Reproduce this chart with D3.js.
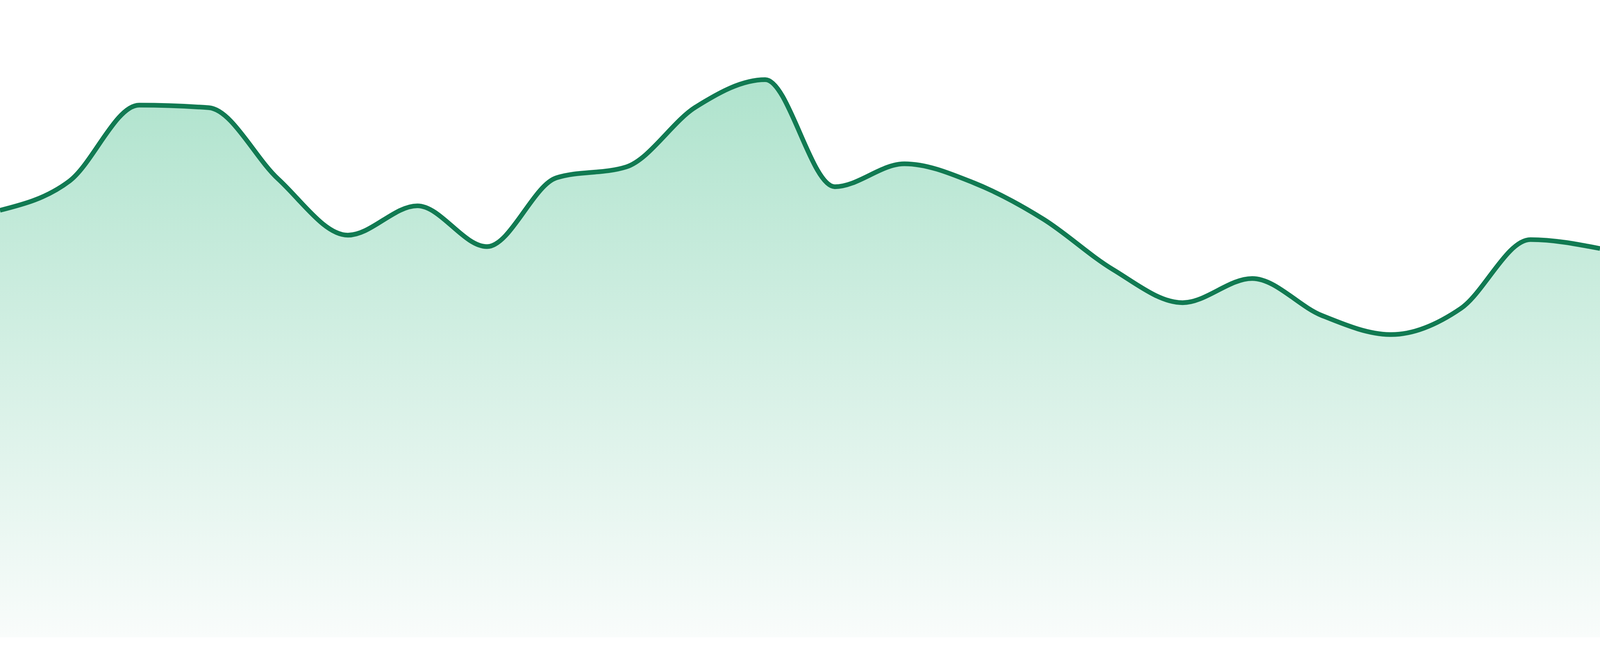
<!DOCTYPE html>
<html>
<head>
<meta charset="utf-8">
<script src="https://cdn.jsdelivr.net/npm/d3@7"></script>
<style>
  html, body { margin: 0; padding: 0; background: #fff; overflow: hidden; }
  svg { display: block; }
</style>
</head>
<body>
<div id="chart"></div>
<script>
// one series, evenly spaced points, no axes shown
const points = [0, 1, 2, 3, 4, 5, 6, 7, 8, 9, 10, 11, 12, 13, 14, 15, 16, 17, 18, 19, 20, 21, 22, 23]
const values = [67.0, 71.6, 83.5, 83.1, 71.9, 63.1, 67.7, 61.3, 72.1, 73.8, 83.2, 87.5,
                70.7, 74.3, 71.3, 65.6, 57.7, 52.5, 56.3, 50.5, 47.5, 51.6, 62.4, 61.0]
const yDomain = [0, 100]

// size to the window, the reference layout was 4800 x 1680
const width = window.innerWidth || 4800
const height = window.innerHeight || 1680
const k = width / 4800
const margin = {top: 0, right: 0, bottom: height * 48 / 1680, left: 0}

const svg = d3.select('#chart')
              .append('svg')
              .attr('width', width)
              .attr('height', height)

const x = d3.scaleLinear()
            .domain(d3.extent(points))
            .range([margin.left, width - margin.right])

const y = d3.scaleLinear()
            .domain(yDomain)
            .range([height - margin.bottom, margin.top])

const data = points.map((p, i) => ({x: p, v: values[i]}))

const defs = svg.append('defs')
const grad = defs.append('linearGradient')
                 .attr('id', 'fillGrad')
                 .attr('x1', 0).attr('y1', 0)
                 .attr('x2', 0).attr('y2', 1)
grad.append('stop').attr('offset', '0%').attr('stop-color', '#afe3cd')
grad.append('stop').attr('offset', '100%').attr('stop-color', '#f9fcfb')

const area = d3.area()
               .x(d => x(d.x))
               .y0(y(0))
               .y1(d => y(d.v))
               .curve(d3.curveMonotoneX)

const line = d3.line()
               .x(d => x(d.x))
               .y(d => y(d.v))
               .curve(d3.curveMonotoneX)

svg.append('path')
   .datum(data)
   .attr('fill', 'url(#fillGrad)')
   .attr('d', area)

svg.append('path')
   .datum(data)
   .attr('fill', 'none')
   .attr('stroke', '#117a52')
   .attr('stroke-width', 14 * k)
   .attr('stroke-linejoin', 'round')
   .attr('d', line)
</script>
</body>
</html>
